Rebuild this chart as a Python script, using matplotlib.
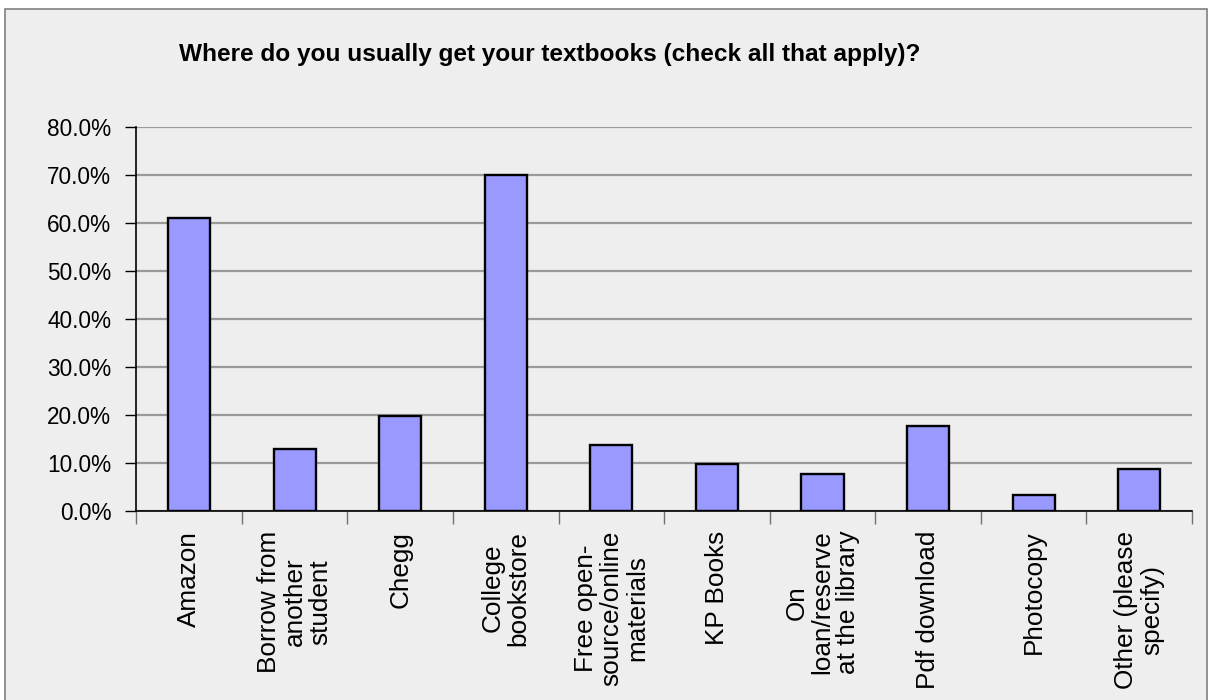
import matplotlib
matplotlib.use("Agg")
import matplotlib.pyplot as plt
from matplotlib.patches import Rectangle
import numpy as np

categories = ["Amazon", "Borrow from\nanother\nstudent", "Chegg", "College\nbookstore",
              "Free open-\nsource/online\nmaterials", "KP Books", "On\nloan/reserve\nat the library",
              "Pdf download", "Photocopy", "Other (please\nspecify)"]
values = [61.0, 13.0, 19.8, 70.1, 13.8, 9.8, 7.8, 17.8, 3.3, 8.9]
yticks = [0, 10, 20, 30, 40, 50, 60, 70, 80]
title = "Where do you usually get your textbooks (check all that apply)?"

plt.rcParams["font.family"] = ["Liberation Sans", "DejaVu Sans"]

W, H = 1212, 700
fig = plt.figure(figsize=(W / 100, H / 100), dpi=100)
fig.patch.set_facecolor("white")
fig.patches.append(Rectangle((5 / W, -0.05), (1207 - 5) / W, 1 - 9 / H + 0.05,
                             transform=fig.transFigure, facecolor="#EEEEEE",
                             edgecolor="#808080", linewidth=1.2, zorder=-5))

left, right = 136.3 / W, 1192 / W
bottom, top = 1 - 511.3 / H, 1 - 127.3 / H
ax = fig.add_axes([left, bottom, right - left, top - bottom])
ax.set_zorder(2)
ax.set_facecolor("none")

x = np.arange(len(categories))
ax.bar(x, values, width=0.4, color="#9999FF", edgecolor="black", linewidth=1.7, zorder=3)

ax.set_xlim(-0.5, len(categories) - 0.5)
ax.set_ylim(0, 80)
ax.set_yticks(yticks)
ax.set_yticklabels([f"{v:.1f}%" for v in yticks], fontsize=16.3)
ax.yaxis.grid(True, color="#9A9A9A", linewidth=1.6, zorder=1)
ax.set_axisbelow(True)

ax.set_xticks(x)
ax.set_xticklabels(categories, rotation=90, fontsize=18.8,
                   ha="center", va="top", multialignment="center", linespacing=1.08)
ax.set_xticks(np.arange(len(categories) + 1) - 0.5, minor=True)
ax.tick_params(axis="x", which="major", length=0, pad=14)
ax.tick_params(axis="x", which="minor", length=9, width=1, color="#707070", direction="out")
ax.tick_params(axis="y", which="major", length=8, width=1, color="black", pad=10)

for s in ["top", "right"]:
    ax.spines[s].set_visible(False)
ax.spines["left"].set_color("black")
ax.spines["bottom"].set_color("black")
ax.spines["left"].set_linewidth(1.2)
ax.spines["bottom"].set_linewidth(1.2)

fig.text(550 / W, 1 - 60.7 / H, title, ha="center", va="baseline",
         fontweight="bold", fontsize=17.6, zorder=3)

fig.savefig("out.png", dpi=100, facecolor=fig.get_facecolor())
